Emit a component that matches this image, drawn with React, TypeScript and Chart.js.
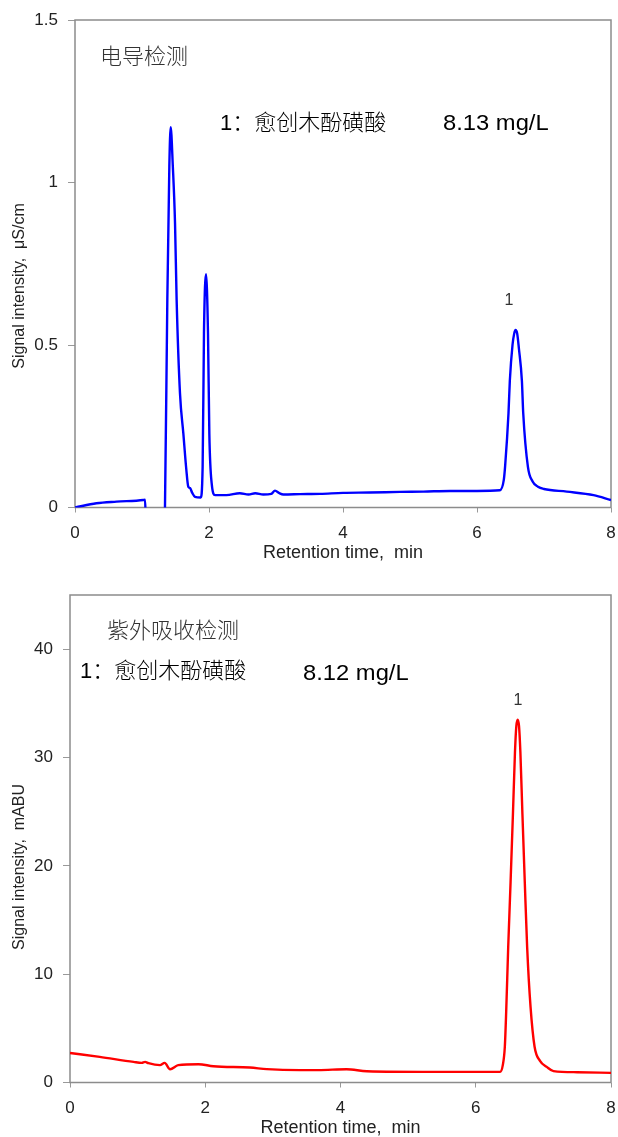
import React, { useEffect, useRef } from "react";
import { Chart, registerables } from "chart.js";

Chart.register(...registerables);

// ---- Data ----
const blueTime = [
  0, 0.32, 0.62, 1.02, 1.045, 1.06, 1.2, 1.32, 1.335, 1.343, 1.378, 1.408, 1.428, 1.46, 1.493,
  1.517, 1.567, 1.617, 1.66, 1.691, 1.716, 1.75, 1.791, 1.876, 1.905, 1.925, 1.955, 1.985,
  2.005, 2.04, 2.09, 2.26, 2.46, 2.59, 2.69, 2.81, 2.93, 2.985, 3.05, 3.11, 3.36, 3.66, 4.0,
  4.4, 4.85, 5.2, 5.6, 6.0, 6.34, 6.4, 6.42, 6.47, 6.49, 6.53, 6.555, 6.575, 6.6, 6.625, 6.67,
  6.69, 6.76, 6.83, 6.91, 7.0, 7.34, 7.74, 8.0,
];
const blueSignal = [
  0, 0.013, 0.018, 0.023, 0.024, -0.05, -0.1, -0.1, -0.05, 0.0, 0.64, 1.05, 1.17, 1.05, 0.874,
  0.638, 0.351, 0.228, 0.12, 0.064, 0.06, 0.045, 0.033, 0.031, 0.125, 0.537, 0.718, 0.537,
  0.228, 0.074, 0.038, 0.038, 0.044, 0.04, 0.044, 0.04, 0.042, 0.052, 0.044, 0.04, 0.041,
  0.042, 0.045, 0.046, 0.048, 0.049, 0.051, 0.051, 0.053, 0.085, 0.128, 0.29, 0.39, 0.5,
  0.535, 0.546, 0.535, 0.49, 0.39, 0.29, 0.125, 0.08, 0.064, 0.057, 0.049, 0.038, 0.023,
];

const redTime = [
  0, 0.44, 0.94, 1.06, 1.11, 1.16, 1.33, 1.4, 1.48, 1.6, 1.9, 2.12, 2.66, 2.91, 3.4, 3.67,
  4.09, 4.39, 5.37, 6.36, 6.4, 6.43, 6.45, 6.48, 6.515, 6.55, 6.58, 6.6, 6.62, 6.64, 6.66,
  6.69, 6.725, 6.76, 6.81, 6.87, 6.95, 7.05, 7.15, 7.5, 8.0,
];
const redSignal = [
  2.73, 2.36, 1.9, 1.81, 1.9, 1.78, 1.6, 1.81, 1.23, 1.6, 1.69, 1.5, 1.38, 1.23, 1.14, 1.14,
  1.23, 1.04, 0.98, 0.98, 1.6, 3.3, 6.5, 12.5, 18.5, 24.8, 30.5, 32.9, 33.5, 32.9, 30.5, 24.8,
  18.5, 12.5, 7.0, 3.3, 2.0, 1.44, 1.05, 0.95, 0.89,
];

const xTitle = "Retention time,  min";
const topYTitle = "Signal intensity,  μS/cm";
const bottomYTitle = "Signal intensity,  mABU";
const topLabel = "电导检测";
const bottomLabel = "紫外吸收检测";
const compoundLine = "1：愈创木酚磺酸";
const topConc = "8.13 mg/L";
const bottomConc = "8.12 mg/L";
const peakLabel = "1";

const LATIN = '"Liberation Sans", Arial, sans-serif';
const MIXED = '"Liberation Sans", "Noto Sans CJK SC", sans-serif';
const CJK = '"Noto Sans CJK SC", sans-serif';

type TextItem = {
  text: string;
  x: number;
  y: number;
  font: string;
  color: string;
  align?: CanvasTextAlign;
  rotate?: boolean;
  sx?: number;
};

const framePlugin = {
  id: "frame",
  beforeDatasetsDraw(chart: any) {
    const { ctx, chartArea } = chart;
    ctx.save();
    ctx.strokeStyle = "#8c8c8c";
    ctx.lineWidth = 1.5;
    ctx.strokeRect(chartArea.left, chartArea.top, chartArea.right - chartArea.left, chartArea.bottom - chartArea.top);
    ctx.restore();
  },
};

const textPlugin = {
  id: "texts",
  afterDraw(chart: any, _args: any, opts: any) {
    const items: TextItem[] = opts.items || [];
    const { ctx } = chart;
    items.forEach((t) => {
      ctx.save();
      ctx.font = t.font;
      ctx.fillStyle = t.color;
      ctx.textAlign = t.align || "left";
      ctx.textBaseline = "middle";
      ctx.translate(t.x, t.y);
      if (t.rotate) ctx.rotate(-Math.PI / 2);
      ctx.scale(t.sx || 1, 1);
      ctx.fillText(t.text, 0, 0);
      ctx.restore();
    });
  },
};

function makeConfig(
  times: number[],
  values: number[],
  color: string,
  yMax: number,
  yStep: number,
  yWidth: number,
  items: TextItem[]
): any {
  return {
    type: "line",
    data: {
      datasets: [
        {
          data: times.map((t, i) => ({ x: t, y: values[i] })),
          borderColor: color,
          borderWidth: 2.4,
          pointRadius: 0,
          fill: false,
          cubicInterpolationMode: "monotone",
        },
      ],
    },
    options: {
      responsive: false,
      animation: false,
      devicePixelRatio: 1,
      layout: { autoPadding: false, padding: { top: 20, right: 7, left: 0, bottom: 0 } },
      plugins: {
        legend: { display: false },
        tooltip: { enabled: false },
        texts: { items },
      },
      scales: {
        x: {
          type: "linear",
          min: 0,
          max: 8,
          ticks: {
            stepSize: 2,
            font: { family: LATIN, size: 17 },
            color: "#222",
            padding: 11,
            callback: (v: number) => `${v}`,
          },
          grid: { drawOnChartArea: false, drawTicks: true, tickLength: 5, color: "#999", lineWidth: 1 },
          border: { display: false },
          title: {
            display: true,
            text: xTitle,
            font: { family: LATIN, size: 18, lineHeight: 1.0 },
            color: "#222",
            padding: { top: 0, bottom: 0 },
          },
          afterFit: (s: any) => {
            s.height = 54.5;
            s.paddingLeft = 0;
            s.paddingRight = 0;
          },
        },
        y: {
          type: "linear",
          min: 0,
          max: yMax,
          ticks: {
            stepSize: yStep,
            includeBounds: false,
            font: { family: LATIN, size: 17 },
            color: "#222",
            padding: 10,
            callback: (v: number) => `${v}`,
          },
          grid: { drawOnChartArea: false, drawTicks: true, tickLength: 7, color: "#999", lineWidth: 1 },
          border: { display: false },
          afterFit: (s: any) => {
            s.width = yWidth;
            s.paddingTop = 0;
            s.paddingBottom = 0;
          },
        },
      },
    },
    plugins: [framePlugin, textPlugin],
  };
}

function ChartCanvas({ config, top }: { config: any; top: number }) {
  const ref = useRef<HTMLCanvasElement | null>(null);
  useEffect(() => {
    if (!ref.current) return;
    const chart = new Chart(ref.current, config);
    return () => chart.destroy();
  }, [config]);
  return (
    <canvas
      ref={ref}
      width={618}
      height={562}
      style={{ position: "absolute", left: 0, top, width: 618, height: 562 }}
    />
  );
}

const topItems: TextItem[] = [
  { text: topLabel, x: 100, y: 56, font: `300 22px ${CJK}`, color: "#333" },
  { text: compoundLine, x: 220, y: 124, font: `300 22px ${MIXED}`, color: "#000" },
  { text: topConc, x: 443, y: 124, font: `22px ${LATIN}`, color: "#000", sx: 1.08 },
  { text: peakLabel, x: 509, y: 301, font: `16px ${LATIN}`, color: "#333", align: "center" },
  { text: topYTitle, x: 20, y: 286, font: `16px ${LATIN}`, color: "#222", align: "center", rotate: true },
];

const bottomItems: TextItem[] = [
  { text: bottomLabel, x: 107, y: 55, font: `300 22px ${CJK}`, color: "#333" },
  { text: compoundLine, x: 80, y: 97, font: `300 22px ${MIXED}`, color: "#000" },
  { text: bottomConc, x: 303, y: 99, font: `22px ${LATIN}`, color: "#000", sx: 1.08 },
  { text: peakLabel, x: 518, y: 126, font: `16px ${LATIN}`, color: "#333", align: "center" },
  { text: bottomYTitle, x: 20, y: 292, font: `16px ${LATIN}`, color: "#222", align: "center", rotate: true },
];

const topConfig = makeConfig(blueTime, blueSignal, "#0000ff", 1.5, 0.5, 75, topItems);
const bottomConfig = makeConfig(redTime, redSignal, "#ff0000", 45, 10, 70, bottomItems);

export default function App() {
  return (
    <div style={{ position: "absolute", left: 0, top: 0, width: 618, height: 1137, background: "#fff" }}>
      <ChartCanvas config={topConfig} top={0} />
      <ChartCanvas config={bottomConfig} top={575} />
    </div>
  );
}
